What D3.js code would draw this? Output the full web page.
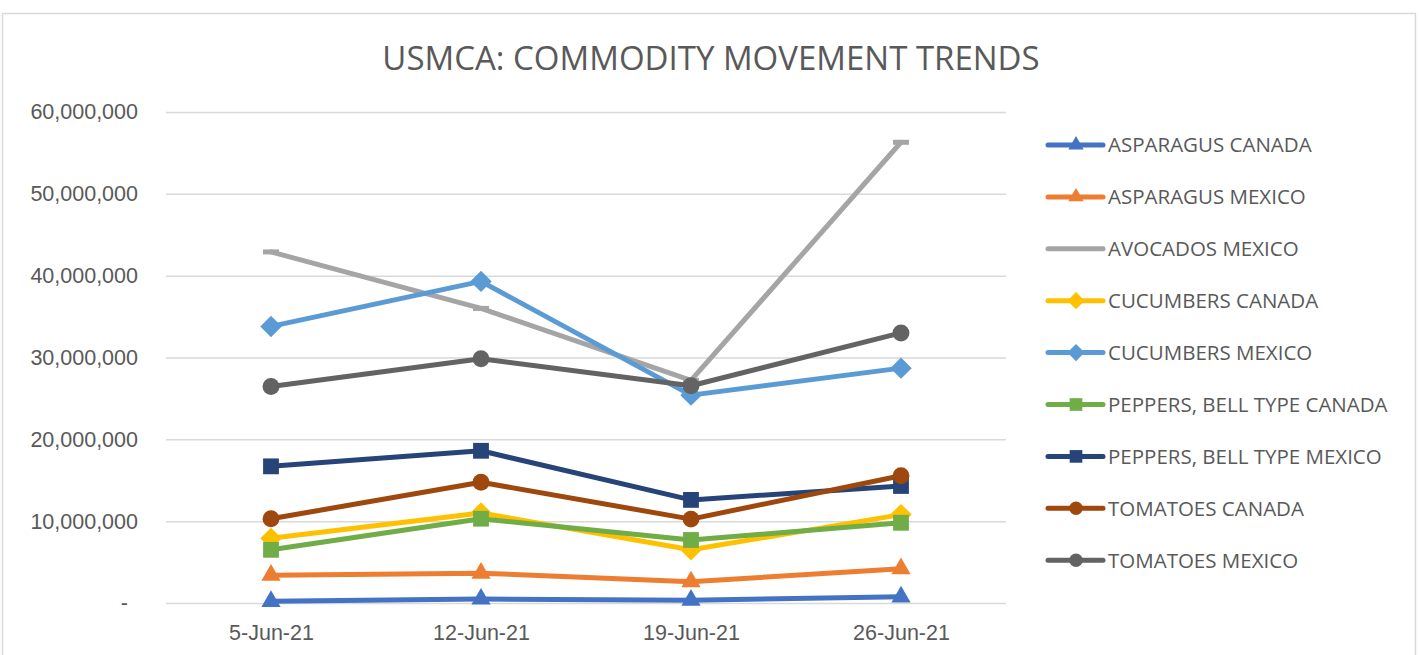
<!DOCTYPE html>
<html>
<head>
<meta charset="utf-8">
<script src="https://cdn.jsdelivr.net/npm/d3@7"></script>
<style>
  body { margin: 0; background: #fff; }
  svg { font-family: "Open Sans", "Noto Sans", sans-serif; }
</style>
</head>
<body>
<div id="chart"></div>
<script>
// weeks on the x axis
var weeks = ["5-Jun-21", "12-Jun-21", "19-Jun-21", "26-Jun-21"];

// series names
var seriesNames = [
    "ASPARAGUS CANADA", "ASPARAGUS MEXICO", "AVOCADOS MEXICO",
    "CUCUMBERS CANADA", "CUCUMBERS MEXICO", "PEPPERS, BELL TYPE CANADA",
    "PEPPERS, BELL TYPE MEXICO", "TOMATOES CANADA", "TOMATOES MEXICO"
];

// values per week
var asparagusCanada = [200000, 480000, 350000, 750000];
var asparagusMexico = [3400000, 3650000, 2600000, 4200000];
var avocadosMexico = [42900000, 36000000, 27200000, 56300000];
var cucumbersCanada = [7900000, 11000000, 6500000, 10800000];
var cucumbersMexico = [33800000, 39300000, 25400000, 28700000];
var peppersCanada = [6500000, 10300000, 7700000, 9800000];
var peppersMexico = [16700000, 18600000, 12600000, 14300000];
var tomatoesCanada = [10300000, 14750000, 10250000, 15550000];
var tomatoesMexico = [26450000, 29850000, 26550000, 33000000];

var yTicks = [0, 10000000, 20000000, 30000000, 40000000, 50000000, 60000000];

var colors = ["#4472C4", "#ED7D31", "#A5A5A5", "#FFC000", "#5B9BD5",
              "#70AD47", "#264478", "#9E480E", "#636363"];
var markers = ["triangle", "triangle", "dash", "diamond", "diamond",
               "square", "square", "circle", "circle"];

var allValues = [asparagusCanada, asparagusMexico, avocadosMexico, cucumbersCanada,
                 cucumbersMexico, peppersCanada, peppersMexico, tomatoesCanada, tomatoesMexico];

var series = seriesNames.map(function(name, i) {
    return { name: name, color: colors[i], marker: markers[i], values: allValues[i] };
});

var W = 1420, H = 655;
var margin = {top: 112, left: 166, right: 414, bottom: 52};
var width = W - margin.left - margin.right,   // 840
    height = H - margin.top - margin.bottom;  // 491

var svg = d3.select("#chart").append("svg")
    .attr("width", W)
    .attr("height", H);

// outer chart border
svg.append("rect")
    .attr("x", 2.5).attr("y", 13.5)
    .attr("width", 1413).attr("height", 700)
    .attr("fill", "none")
    .attr("stroke", "#D9D9D9")
    .attr("stroke-width", 1.5);

// title
svg.append("text")
    .attr("x", 711)
    .attr("y", 70)
    .attr("text-anchor", "middle")
    .attr("fill", "#595959")
    .style("font-size", "33px")
    .text("USMCA: COMMODITY MOVEMENT TRENDS");

var g = svg.append("g")
    .attr("transform", "translate(" + margin.left + "," + margin.top + ")");

var x = d3.scalePoint().domain(weeks).range([0, width]).padding(0.5);
var y = d3.scaleLinear().domain([0, 60000000]).range([height, 0]);

// y axis with gridlines
var yAxis = g.append("g")
    .attr("class", "y axis")
    .call(d3.axisLeft(y)
        .tickValues(yTicks)
        .tickSize(-width)
        .tickPadding(28)
        .tickFormat(function(d) { return d === 0 ? "-" : d3.format(",")(d); }));
yAxis.select(".domain").remove();
yAxis.selectAll(".tick line")
    .attr("stroke", "#D9D9D9")
    .attr("stroke-width", 1.5);
yAxis.selectAll(".tick text")
    .attr("fill", "#595959")
    .style("font-size", "21.5px")
    .attr("dx", function(d) { return d === 0 ? -10 : 0; });

// x axis
var xAxis = g.append("g")
    .attr("class", "x axis")
    .attr("transform", "translate(0," + height + ")")
    .call(d3.axisBottom(x).tickSize(0).tickPadding(22));
xAxis.select(".domain").remove();
xAxis.selectAll(".tick text")
    .attr("fill", "#595959")
    .style("font-size", "21.5px");

var line = d3.line()
    .x(function(d, i) { return x(weeks[i]); })
    .y(function(d) { return y(d); });

function drawMarker(sel, type, color, scale) {
    if (type === "dash") {
        sel.append("rect")
            .attr("x", -8 * scale).attr("y", -2.5 * scale)
            .attr("width", 16 * scale).attr("height", 5 * scale)
            .attr("fill", color);
        return;
    }
    var sym = null, size = 0, rot = 0;
    if (type === "triangle") { sym = d3.symbolTriangle; size = 160; }
    if (type === "diamond") { sym = d3.symbolSquare; size = 230; rot = 45; }
    if (type === "square") { sym = d3.symbolSquare; size = 250; }
    if (type === "circle") { sym = d3.symbolCircle; size = 225; }
    if (!sym) return;
    sel.append("path")
        .attr("d", d3.symbol().type(sym).size(size * scale * scale)())
        .attr("transform", "rotate(" + rot + ")")
        .attr("fill", color);
}

// lines and markers
var lines = g.selectAll(".series")
    .data(series)
    .enter().append("g")
    .attr("class", "series");

lines.append("path")
    .attr("d", function(d) { return line(d.values); })
    .attr("fill", "none")
    .attr("stroke", function(d) { return d.color; })
    .attr("stroke-width", 5)
    .attr("stroke-linejoin", "round")
    .attr("stroke-linecap", "round");

lines.each(function(s) {
    var grp = d3.select(this);
    s.values.forEach(function(v, i) {
        var m = grp.append("g")
            .attr("transform", "translate(" + x(weeks[i]) + "," + y(v) + ")");
        drawMarker(m, s.marker, s.color, 1);
    });
});

// legend
var legend = svg.append("g")
    .attr("transform", "translate(1048,145)");

var item = legend.selectAll(".legend-item")
    .data(series)
    .enter().append("g")
    .attr("class", "legend-item")
    .attr("transform", function(d, i) { return "translate(0," + (i * 51.9) + ")"; });

item.append("line")
    .attr("x1", 0).attr("x2", 55)
    .attr("stroke", function(d) { return d.color; })
    .attr("stroke-width", 5)
    .attr("stroke-linecap", "round");

item.each(function(s) {
    var m = d3.select(this).append("g").attr("transform", "translate(28,0)");
    drawMarker(m, s.marker === "dash" ? "none" : s.marker, s.color, 0.8);
});

item.append("text")
    .attr("x", 60)
    .attr("dy", "0.36em")
    .attr("fill", "#595959")
    .style("font-size", "20.5px")
    .text(function(d) { return d.name; });
</script>
</body>
</html>
